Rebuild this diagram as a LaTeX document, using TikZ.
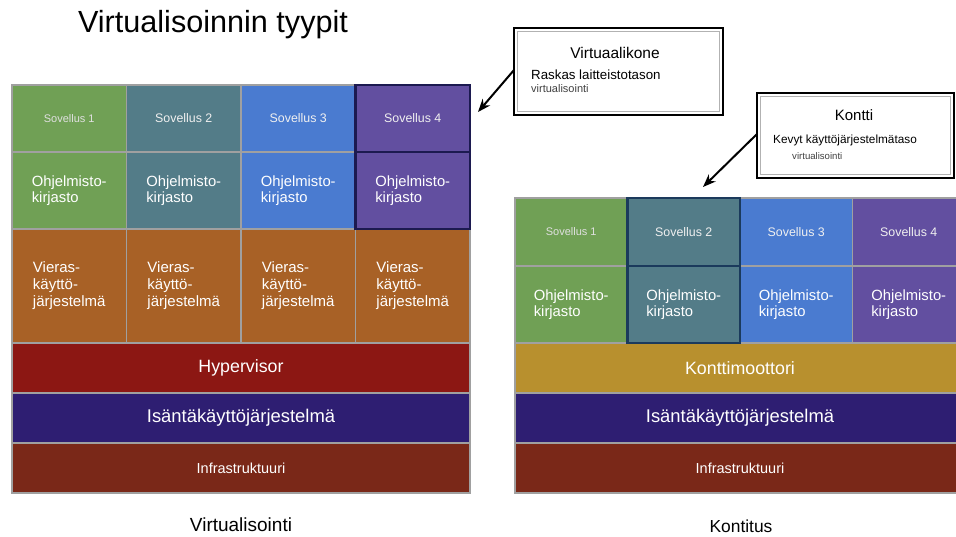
\documentclass[tikz,border=0pt]{standalone}
\usepackage{fontspec}
\setmainfont{Liberation Sans}
\usetikzlibrary{arrows.meta}
\definecolor{gridgray}{HTML}{A0A0A0}
\definecolor{cgreen}{HTML}{70A055}
\definecolor{cteal}{HTML}{537C88}
\definecolor{cblue}{HTML}{4A7BD0}
\definecolor{cpurple}{HTML}{624FA0}
\definecolor{corange}{HTML}{A86126}
\definecolor{chyper}{HTML}{8C1713}
\definecolor{chost}{HTML}{2E1E72}
\definecolor{cinfra}{HTML}{7A2818}
\definecolor{cengine}{HTML}{B8902E}
\definecolor{hlleft}{HTML}{1C1A50}
\definecolor{hlright}{HTML}{1B3A5C}
\begin{document}
\begin{tikzpicture}[x=1pt,y=-1pt,
  cell/.style={draw=gridgray, line width=1.6pt, inner sep=0pt, outer sep=0pt, anchor=north west, text=white, align=left},
  appw/.style={cell, minimum width=114.5pt, minimum height=67pt, font=\fontsize{12.4}{14}\selectfont, text=white!94!black},
  app1w/.style={appw, font=\fontsize{11}{13}\selectfont, text=white!88!black},
  libw/.style={cell, minimum width=114.5pt, minimum height=77pt, font=\fontsize{14.8}{16}\selectfont},
  guest/.style={cell, minimum width=114.5pt, minimum height=114pt, font=\fontsize{15}{17}\selectfont, fill=corange},
  appk/.style={appw, minimum width=112.5pt, minimum height=68pt},
  app1k/.style={app1w, minimum width=112.5pt, minimum height=68pt},
  libk/.style={libw, minimum width=112.5pt},
  layerl/.style={cell, minimum width=458pt, minimum height=50pt, align=center},
  layerr/.style={cell, minimum width=450pt, minimum height=50pt, align=center},
  big/.style={font=\fontsize{17.8}{20}\selectfont},
  host/.style={font=\fontsize{18.4}{20}\selectfont},
  infra/.style={font=\fontsize{14.5}{16}\selectfont},
  hl/.style={line width=2.8pt},
  callout/.style={draw=black, line width=2.4pt, fill=white, inner sep=0pt, outer sep=0pt, anchor=north west},
  calline/.style={draw=gray!60, line width=1pt},
  pointer/.style={line width=2pt, -{Stealth[length=13pt,width=10pt]}},
  lbl/.style={text=black, inner sep=0pt}
]
\useasboundingbox (0,0) rectangle (956,536);
\clip (0,0) rectangle (956,536);
\fill[white] (0,0) rectangle (956,536);

% title
\node[lbl, font=\fontsize{30.6}{34}\selectfont] (title) at (213,25) {Virtualisoinnin tyypit};

% ---------- left stack (Virtualisointi) ----------
\node[app1w, fill=cgreen]  (ls1) at (12,85)    {Sovellus 1};
\node[appw,  fill=cteal]   (ls2) at (126.5,85) {Sovellus 2};
\node[appw,  fill=cblue]   (ls3) at (241,85)   {Sovellus 3};
\node[appw,  fill=cpurple] (ls4) at (355.5,85) {Sovellus 4};
\node[libw, fill=cgreen]  (lo1) at (12,152)    {Ohjelmisto-\\kirjasto};
\node[libw, fill=cteal]   (lo2) at (126.5,152) {Ohjelmisto-\\kirjasto};
\node[libw, fill=cblue]   (lo3) at (241,152)   {Ohjelmisto-\\kirjasto};
\node[libw, fill=cpurple] (lo4) at (355.5,152) {Ohjelmisto-\\kirjasto};
\node[guest] (lg1) at (12,229)    {Vieras-\\käyttö-\\järjestelmä};
\node[guest] (lg2) at (126.5,229) {Vieras-\\käyttö-\\järjestelmä};
\node[guest] (lg3) at (241,229)   {Vieras-\\käyttö-\\järjestelmä};
\node[guest] (lg4) at (355.5,229) {Vieras-\\käyttö-\\järjestelmä};
\node[layerl, big,   fill=chyper] (lhyp)  at (12,343) {Hypervisor};
\node[layerl, host,  fill=chost]  (lhost) at (12,393) {Isäntäkäyttöjärjestelmä};
\node[layerl, infra, fill=cinfra] (linf)  at (12,443) {Infrastruktuuri};
\draw[hl, draw=hlleft] (ls4.north west) rectangle (ls4.south east);
\draw[hl, draw=hlleft] (lo4.north west) rectangle (lo4.south east);

% ---------- right stack (Kontitus) ----------
\node[app1k, fill=cgreen]  (rs1) at (515,198)   {Sovellus 1};
\node[appk,  fill=cteal]   (rs2) at (627.5,198) {Sovellus 2};
\node[appk,  fill=cblue]   (rs3) at (740,198)   {Sovellus 3};
\node[appk,  fill=cpurple] (rs4) at (852.5,198) {Sovellus 4};
\node[libk, fill=cgreen]  (ro1) at (515,266)   {Ohjelmisto-\\kirjasto};
\node[libk, fill=cteal]   (ro2) at (627.5,266) {Ohjelmisto-\\kirjasto};
\node[libk, fill=cblue]   (ro3) at (740,266)   {Ohjelmisto-\\kirjasto};
\node[libk, fill=cpurple] (ro4) at (852.5,266) {Ohjelmisto-\\kirjasto};
\node[layerr, big,   fill=cengine] (reng)  at (515,343) {Konttimoottori};
\node[layerr, host,  fill=chost]   (rhost) at (515,393) {Isäntäkäyttöjärjestelmä};
\node[layerr, infra, fill=cinfra]  (rinf)  at (515,443) {Infrastruktuuri};
\draw[hl, draw=hlright] (rs2.north west) rectangle (rs2.south east);
\draw[hl, draw=hlright] (ro2.north west) rectangle (ro2.south east);

% ---------- callouts ----------
\node[callout, minimum width=209pt, minimum height=87pt] (vm) at (514,28) {};
\draw[calline] ([shift={(3.5,3.5)}]vm.north west) rectangle ([shift={(-3.5,-3.5)}]vm.south east);
\node[lbl, font=\fontsize{15.5}{18}\selectfont] (vmt) at (615,53) {Virtuaalikone};
\node[lbl, anchor=west, font=\fontsize{13.3}{15}\selectfont] (vmd) at (531,75) {Raskas laitteistotason};
\node[lbl, anchor=west, text=black!75, font=\fontsize{11}{13}\selectfont] (vmv) at (531,89) {virtualisointi};

\node[callout, minimum width=197pt, minimum height=85pt] (ct) at (757,93) {};
\draw[calline] ([shift={(3.5,3.5)}]ct.north west) rectangle ([shift={(-3.5,-3.5)}]ct.south east);
\node[lbl, font=\fontsize{15}{18}\selectfont] (ctt) at (854,115) {Kontti};
\node[lbl, anchor=west, font=\fontsize{11.8}{14}\selectfont] (ctd) at (773,140) {Kevyt käyttöjärjestelmätaso};
\node[lbl, anchor=west, text=black!75, font=\fontsize{9.6}{12}\selectfont] (ctv) at (792,156) {virtualisointi};

\coordinate (vmtip) at (478,112);
\coordinate (cttip) at (703,187);
\draw[pointer] ([yshift=1.5pt]vm.west) -- (vmtip);
\draw[pointer] ([yshift=1.5pt]ct.west) -- (cttip);

% ---------- captions ----------
\node[lbl, font=\fontsize{19}{22}\selectfont] (capl) at (241,525) {Virtualisointi};
\node[lbl, font=\fontsize{17.4}{20}\selectfont] (capr) at (741,526) {Kontitus};
\end{tikzpicture}
\end{document}
